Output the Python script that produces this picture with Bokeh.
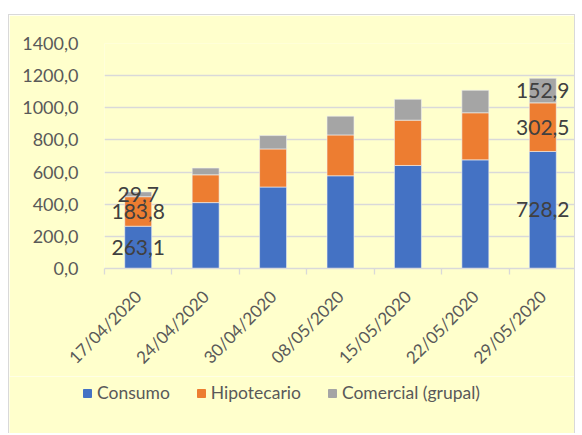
from bokeh.plotting import figure
from bokeh.models import ColumnDataSource, FixedTicker, Legend, LegendItem
from bokeh.core.properties import value
from bokeh.embed import file_html
from bokeh.resources import INLINE
import math

dates = ["17/04/2020", "24/04/2020", "30/04/2020", "08/05/2020", "15/05/2020", "22/05/2020", "29/05/2020"]
consumo = [263.1, 410.0, 507.0, 577.0, 641.0, 676.0, 728.2]
hipotecario = [183.8, 173.0, 237.0, 254.0, 282.0, 293.0, 302.5]
comercial = [29.7, 42.0, 83.0, 117.0, 130.0, 140.0, 152.9]
series_names = ["Consumo", "Hipotecario", "Comercial (grupal)"]
colors = ["#4472C4", "#ED7D31", "#A5A5A5"]
y_ticks = [0, 200, 400, 600, 800, 1000, 1200, 1400]
labeled_bars = [0, 6]

BG = "#FFFFCC"
FONT = "Lato"
GRID = "#D9D9D9"

xs = [i + 0.5 for i in range(len(dates))]
src = ColumnDataSource(dict(x=xs, Consumo=consumo, Hipotecario=hipotecario, Comercial=comercial))
stack_keys = ["Consumo", "Hipotecario", "Comercial"]

p = figure(width=567, height=362, x_range=(0, len(dates)), y_range=(0, 1400),
           output_backend="svg", toolbar_location=None,
           min_border_left=95, min_border_top=28, min_border_right=0, min_border_bottom=107)
p.styles = {"margin-left": "8px", "margin-top": "14px",
            "border-left": f"1px solid {GRID}", "border-top": f"1px solid {GRID}",
            "border-right": f"1px solid {GRID}"}
p.background_fill_color = BG
p.border_fill_color = BG
p.outline_line_color = None

p.vbar_stack(stack_keys, x="x", width=0.4, source=src,
             color=colors, line_color="#F2F2F2", line_width=0.6)

# data labels on first and last bars
lx, ly, lt = [], [], []
for i in labeled_bars:
    base = 0.0
    for v in (consumo[i], hipotecario[i], comercial[i]):
        lx.append(xs[i])
        ly.append(base + v / 2)
        lt.append(f"{v:.1f}".replace(".", ","))
        base += v
p.text(x=lx, y=ly, text=lt, text_align="center", text_baseline="middle",
       text_font=value(FONT), text_font_size="21px", text_color="#404040")

# y axis
p.yaxis.ticker = FixedTicker(ticks=y_ticks)
p.yaxis.major_label_overrides = {t: f"{t:.1f}".replace(".", ",") for t in y_ticks}
p.yaxis.axis_line_color = None
p.yaxis.major_tick_line_color = None
p.yaxis.minor_tick_line_color = None
p.yaxis.major_label_standoff = 20
p.yaxis.major_label_text_font = FONT
p.yaxis.major_label_text_font_size = "18px"
p.yaxis.major_label_text_color = "#595959"

p.ygrid.grid_line_color = GRID
p.ygrid.grid_line_width = 1.3
p.ygrid.ticker = FixedTicker(ticks=y_ticks)
p.xgrid.grid_line_color = None

# x axis: labels at bar centres, tick marks at category boundaries
p.xaxis.ticker = FixedTicker(ticks=xs, minor_ticks=list(range(len(dates) + 1)))
p.xaxis.major_label_overrides = {x: d for x, d in zip(xs, dates)}
p.xaxis.major_label_orientation = math.pi / 4
p.xaxis.major_tick_line_color = None
p.xaxis.minor_tick_line_color = GRID
p.xaxis.minor_tick_line_width = 1.3
p.xaxis.minor_tick_in = 0
p.xaxis.minor_tick_out = 6
p.xaxis.axis_line_color = GRID
p.xaxis.axis_line_width = 1.3
p.xaxis.major_label_standoff = 19
p.xaxis.major_label_text_font = FONT
p.xaxis.major_label_text_font_size = "17px"
p.xaxis.major_label_text_color = "#595959"

# legend strip below the chart (hidden copies of the series supply the legend glyphs)
p2 = figure(width=567, height=57, x_range=(0, 1), y_range=(0, 1),
            x_axis_location=None, y_axis_location=None,
            output_backend="svg", toolbar_location=None,
            min_border_left=0, min_border_right=0, min_border_top=0, min_border_bottom=0)
p2.styles = {"margin-left": "8px",
             "border-left": f"1px solid {GRID}", "border-right": f"1px solid {GRID}"}
p2.grid.visible = False
p2.outline_line_color = None
p2.background_fill_color = BG
p2.border_fill_color = BG
legend_renderers = p2.vbar_stack(stack_keys, x="x", width=0.4, source=src, color=colors)
for r in legend_renderers:
    r.visible = False
legend = Legend(items=[LegendItem(label=n, renderers=[r]) for n, r in zip(series_names, legend_renderers)],
                orientation="horizontal", location=(73, 30))
legend.background_fill_alpha = 0
legend.border_line_color = None
legend.inactive_fill_alpha = 0
legend.label_text_font = FONT
legend.label_text_font_size = "17.5px"
legend.label_text_color = "#595959"
legend.glyph_width = 10
legend.glyph_height = 10
legend.label_standoff = 5
legend.spacing = 26
legend.margin = 0
legend.padding = 0
p2.add_layout(legend, "center")

html = file_html([p, p2], INLINE)
html = html.replace("<body>", '<body style="background:#FFFFCC; font-size:0; line-height:0">', 1)
open("out.html", "w").write(html)
